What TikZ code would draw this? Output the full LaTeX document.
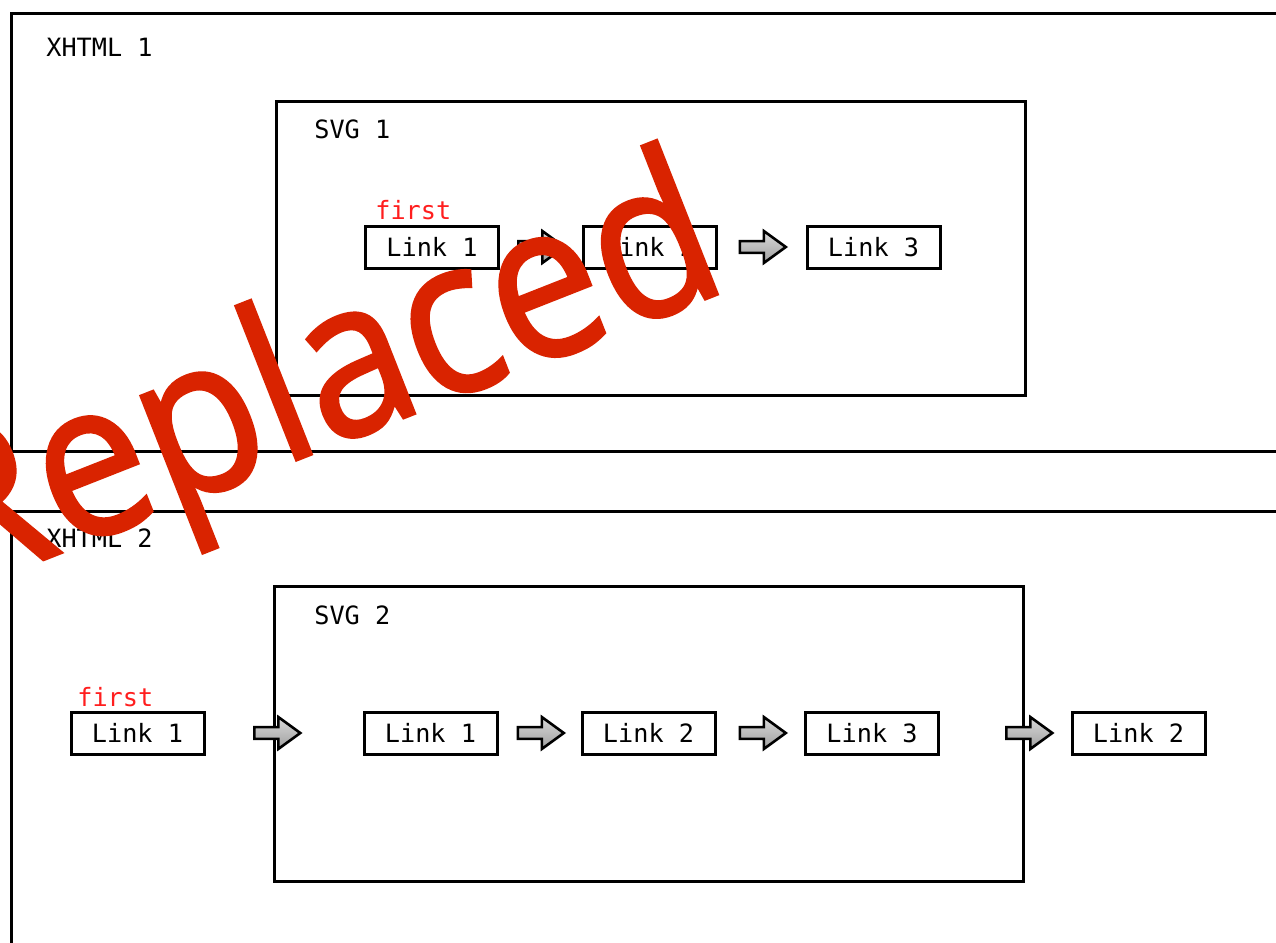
\documentclass[tikz,border=0pt]{standalone}
\usepackage{graphicx}
\usepackage{fontspec}
\setmonofont{DejaVu Sans Mono}
\newfontfamily\replfont[FakeBold=1.5]{Open Sans}
\usetikzlibrary{shapes.arrows,calc}
\definecolor{replred}{RGB}{217,35,0}
\definecolor{firstred}{RGB}{255,30,30}
\tikzset{
  frame/.style={draw=black, line width=1.5pt},
  framebox/.style={frame, inner sep=0pt, anchor=north west},
  linkbox/.style={draw=black, line width=1.5pt, minimum width=66.5pt, minimum height=21pt,
    inner sep=0pt, font=\ttfamily\fontsize{12.6}{14}\selectfont},
  lbl/.style={anchor=base west, inner sep=0pt, font=\ttfamily\fontsize{12.6}{14}\selectfont},
  firstlbl/.style={lbl, text=firstred},
  barrow/.style={single arrow, draw=black, line width=1.3pt, top color=gray!30, bottom color=gray!75,
    minimum height=23pt, inner xsep=0pt, inner ysep=2.3pt, single arrow head extend=5pt,
    single arrow tip angle=72, anchor=tail},
  repl/.style={text=replred, inner sep=0pt, font=\replfont\fontsize{108.7}{108.7}\selectfont,
    rotate=21.5, anchor=base}
}
\begin{document}
\begin{tikzpicture}[x=0.5pt,y=-0.5pt]
\useasboundingbox (0,0) rectangle (1276,943);
\clip (0,0) rectangle (1276,943);
\fill[white] (0,0) rectangle (1276,943);

% XHTML 1
\node[framebox, minimum width=645pt, minimum height=219pt] (x1) at (10,12) {};
\node[lbl] (x1lbl) at (46,56) {XHTML 1};
\node[framebox, minimum width=374.5pt, minimum height=147pt] (s1) at (275,100) {};
\node[lbl] (s1lbl) at (314,138) {SVG 1};
\node[linkbox] (t1) at (432,247) {Link 1};
\node[linkbox] (t2) at (649.5,247) {Link 2};
\node[linkbox] (t3) at (873.5,247) {Link 3};
\node[firstlbl] (tf) at (375,219) {first};
\node[barrow] (ta1) at ($(t1.east)+(17,0)$) {};
\node[barrow] (ta2) at ($(t2.east)+(21,0)$) {};

% XHTML 2
\node[framebox, minimum width=645pt, minimum height=230pt] (x2) at (10,510) {};
\node[lbl] (x2lbl) at (46,547) {XHTML 2};
\node[framebox, minimum width=374.5pt, minimum height=147.5pt] (s2) at (273,585) {};
\node[lbl] (s2lbl) at (314,624) {SVG 2};
\node[linkbox] (b0) at (137.5,733) {Link 1};
\node[linkbox] (b1) at (430.5,733) {Link 1};
\node[linkbox] (b2) at (648.5,733) {Link 2};
\node[linkbox] (b3) at (872,733) {Link 3};
\node[linkbox] (b4) at (1138.5,733) {Link 2};
\node[firstlbl] (bf) at (77,706) {first};
\node[barrow] (ba0) at ($(s2.west |- b0.east)+(-20,0)$) {};
\node[barrow] (ba1) at ($(b1.east)+(18,0)$) {};
\node[barrow] (ba2) at ($(b2.east)+(22,0)$) {};
\node[barrow] (ba3) at ($(s2.east |- b3.east)+(-20,0)$) {};

% overlay
\node[repl] (rep) at (342,442) {\scalebox{0.91}[1]{Replaced}};
\end{tikzpicture}
\end{document}
